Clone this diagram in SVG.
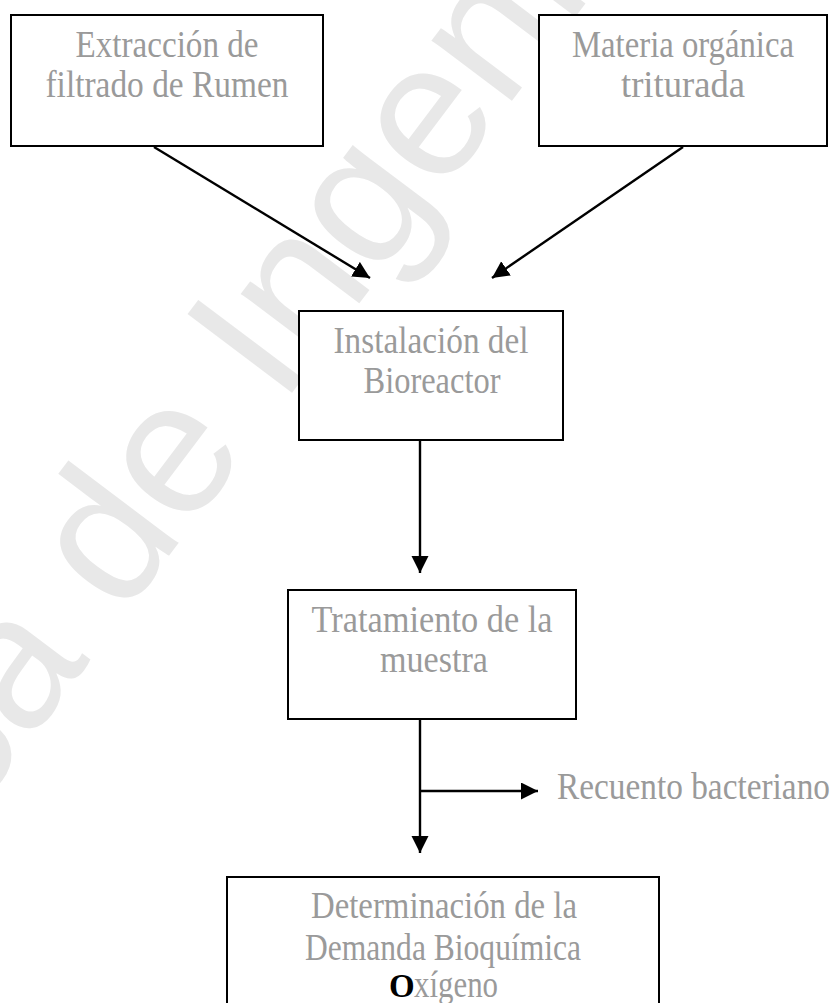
<svg xmlns="http://www.w3.org/2000/svg" width="835" height="1003" viewBox="0 0 835 1003">
<style>
.box{fill:#fff;stroke:#000;stroke-width:2}
.lbl{font-family:"Liberation Serif","Times New Roman",serif;font-size:37px;fill:#9a9a9a;text-anchor:middle}
.con{stroke:#000;stroke-width:2.4;fill:none}
.wm{font-family:"Liberation Sans",Arial,sans-serif;font-size:190px;fill:#e8e8e8}
</style>
<defs>
<marker id="ah" markerUnits="userSpaceOnUse" markerWidth="19" markerHeight="18" refX="17" refY="8.5" orient="auto">
<path d="M0,0 L17,8.5 L0,17 z" fill="#000"/>
</marker>
</defs>
<rect width="835" height="1003" fill="#fff"/>
<text class="wm" transform="translate(-30,820) rotate(-53)">ca de Ingeni</text>
<g id="connectors">
<line class="con" x1="154" y1="147" x2="370" y2="278" marker-end="url(#ah)"/>
<line class="con" x1="683" y1="147" x2="492" y2="278" marker-end="url(#ah)"/>
<line class="con" x1="420" y1="440" x2="420" y2="573" marker-end="url(#ah)"/>
<line class="con" x1="420" y1="719" x2="420" y2="853" marker-end="url(#ah)"/>
<line class="con" x1="420" y1="791" x2="538" y2="791" marker-end="url(#ah)"/>
</g>
<g id="n1">
<rect class="box" x="11" y="15" width="312" height="131"/>
<text class="lbl" x="167" y="57" textLength="183" lengthAdjust="spacingAndGlyphs">Extracción de</text>
<text class="lbl" x="167" y="97" textLength="243" lengthAdjust="spacingAndGlyphs">filtrado de Rumen</text>
</g>
<g id="n2">
<rect class="box" x="539" y="15" width="288" height="131"/>
<text class="lbl" x="683" y="57" textLength="222" lengthAdjust="spacingAndGlyphs">Materia orgánica</text>
<text class="lbl" x="683" y="97" textLength="124" lengthAdjust="spacingAndGlyphs">triturada</text>
</g>
<g id="n3">
<rect class="box" x="299" y="311" width="264" height="129"/>
<text class="lbl" x="431" y="353" textLength="195" lengthAdjust="spacingAndGlyphs">Instalación del</text>
<text class="lbl" x="432" y="393" textLength="137" lengthAdjust="spacingAndGlyphs">Bioreactor</text>
</g>
<g id="n4">
<rect class="box" x="288" y="590" width="288" height="129"/>
<text class="lbl" x="432" y="632" textLength="241" lengthAdjust="spacingAndGlyphs">Tratamiento de la</text>
<text class="lbl" x="434" y="672" textLength="108" lengthAdjust="spacingAndGlyphs">muestra</text>
</g>
<g id="n5">
<rect class="box" x="227" y="877" width="432" height="140"/>
<text class="lbl" x="444" y="918" textLength="266" lengthAdjust="spacingAndGlyphs">Determinación de la</text>
<text class="lbl" x="443" y="960" textLength="276" lengthAdjust="spacingAndGlyphs">Demanda Bioquímica</text>
<text x="389" y="997" style="font-family:'Liberation Serif',serif;font-weight:bold;font-size:33px;fill:#000">O</text>
<text class="lbl" x="414" y="997" style="text-anchor:start" textLength="84" lengthAdjust="spacingAndGlyphs">xígeno</text>
</g>
<g id="n6">
<text class="lbl" x="557" y="799" style="text-anchor:start" textLength="273" lengthAdjust="spacingAndGlyphs">Recuento bacteriano</text>
</g>
</svg>
